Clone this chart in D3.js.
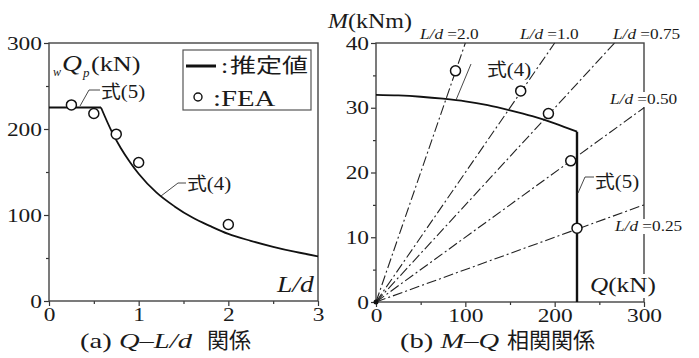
<!DOCTYPE html>
<html>
<head>
<meta charset="utf-8">
<script src="https://cdn.jsdelivr.net/npm/d3@7"></script>
<style>
body { margin: 0; background: #fff; }
svg text { font-family: "Liberation Serif", "Noto Sans CJK JP", serif; fill: #1a1a1a; }
</style>
</head>
<body>
<svg id="chart" width="699" height="358"></svg>
<script>
// (a) Q - L/d
var ldTicks = [0, 1, 2, 3];
var ldMinor = [0.5, 1.5, 2.5];
var qpTicks = [0, 100, 200, 300];
var qpMinor = [50, 150, 250];
var flatLd = [0, 0.58];
var flatQ = [225, 225];
var curveLd = [0.58, 0.7, 0.8, 0.9, 1.0, 1.2, 1.4, 1.6, 1.8, 2.0, 2.25, 2.5, 2.75, 3.0];
var curveQ = [225, 197, 178, 162, 148, 126, 110, 97, 87, 78, 70, 63, 57, 52];
var feaLd = [0.25, 0.5, 0.75, 1.0, 2.0];
var feaQ = [228, 218, 194, 161, 89];

// (b) M - Q
var qTicks = [0, 100, 200, 300];
var qMinor = [50, 150, 250];
var mTicks = [0, 10, 20, 30, 40];
var mMinor = [5, 15, 25, 35];
var mqQ = [0, 25, 50, 75, 100, 125, 150, 175, 200, 225];
var mqM = [32, 31.9, 31.7, 31.4, 31, 30.4, 29.6, 28.7, 27.6, 26.3];
var capQ = [225, 225];
var capM = [26.3, 0];
var rayNames = ["2.0", "1.0", "0.75", "0.50", "0.25"];
var rayEndQ = [100, 200, 267, 300, 300];
var rayEndM = [40, 40, 40, 30, 15];
var feaQb = [89, 162, 193, 218, 225];
var feaMb = [35.7, 32.6, 29.1, 21.8, 11.4];

var SX = 1.3;
var svg = d3.select("#chart");

var xa = d3.scaleLinear().domain([0, 3]).range([49, 318]);
var ya = d3.scaleLinear().domain([0, 300]).range([301, 43]);
var xb = d3.scaleLinear().domain([0, 300]).range([376, 644]);
var yb = d3.scaleLinear().domain([0, 40]).range([302, 43]);

function label (g, x, y, size, sx, anchor) {
  return g.append("text")
    .attr("transform", "translate(" + x + "," + y + ") scale(" + sx + ",1)")
    .attr("text-anchor", anchor || "start")
    .style("font-size", size + "px");
}

function shiki (x, y, n) {
  var s = label(svg, x, y, 19, 1.1, "start");
  s.append("tspan").style("font-size", "18px").text("式");
  s.append("tspan").text("(" + n + ")");
}

function axes (x, y, xt, xm, yt, ym) {
  var g = svg.append("g");
  var y0 = y.range()[0], x0 = x.range()[0];
  var bx = g.append("g").attr("transform", "translate(0," + y0 + ")")
    .call(d3.axisBottom(x).tickValues(xt).tickSize(5).tickSizeOuter(0).tickFormat(d3.format("d")));
  g.append("g").attr("transform", "translate(0," + y0 + ")")
    .call(d3.axisBottom(x).tickValues(xm).tickSize(3).tickSizeOuter(0).tickFormat(""));
  var by = g.append("g").attr("transform", "translate(" + x0 + ",0)")
    .call(d3.axisLeft(y).tickValues(yt).tickSize(5).tickSizeOuter(0).tickFormat(d3.format("d")));
  g.append("g").attr("transform", "translate(" + x0 + ",0)")
    .call(d3.axisLeft(y).tickValues(ym).tickSize(3).tickSizeOuter(0).tickFormat(""));
  g.selectAll("g").attr("font-family", null).attr("font-size", null);
  g.selectAll(".domain").remove();
  g.selectAll(".tick line").attr("stroke", "#333").attr("stroke-width", 1.2);
  bx.selectAll("text").attr("fill", "#1a1a1a").style("font-size", "18px")
    .attr("transform", "scale(" + SX + ",1)").attr("y", 7).attr("dy", "0.71em");
  by.selectAll("text").attr("fill", "#1a1a1a").style("font-size", "18px")
    .attr("transform", "scale(" + SX + ",1)").attr("x", -7 / SX).attr("dy", "0.34em");
  g.append("rect")
    .attr("x", x.range()[0]).attr("y", y.range()[1])
    .attr("width", x.range()[1] - x.range()[0]).attr("height", y0 - y.range()[1])
    .attr("fill", "none").attr("stroke", "#444").attr("stroke-width", 1.4);
  return g;
}

// ---------- (a)
axes(xa, ya, ldTicks, ldMinor, qpTicks, qpMinor);

var lineA = d3.line().x(function (d) { return xa(d[0]); }).y(function (d) { return ya(d[1]); });
svg.append("path").attr("d", lineA(d3.zip(flatLd, flatQ)))
  .attr("fill", "none").attr("stroke", "#111").attr("stroke-width", 2);
svg.append("path").attr("d", lineA.curve(d3.curveMonotoneX)(d3.zip(curveLd, curveQ)))
  .attr("fill", "none").attr("stroke", "#111").attr("stroke-width", 1.8);

svg.append("g").selectAll("circle").data(d3.zip(feaLd, feaQ)).enter().append("circle")
  .attr("cx", function (d) { return xa(d[0]); })
  .attr("cy", function (d) { return ya(d[1]); })
  .attr("r", 5).attr("fill", "#fff").attr("stroke", "#111").attr("stroke-width", 1.5);

// axis titles
var t = label(svg, 53, 76, 12, 1, "start");
t.append("tspan").style("font-style", "italic").text("w");
t = label(svg, 62, 71, 24, 1.15, "start");
t.append("tspan").style("font-style", "italic").text("Q");
t = label(svg, 83, 77, 13, 1, "start");
t.append("tspan").style("font-style", "italic").text("p");
label(svg, 91, 71, 21, 1.25, "start").text("(kN)");
label(svg, 277, 292, 24, 1.15, "start").style("font-style", "italic").text("L/d");

// annotations
svg.append("path").attr("d", "M100,90 L89,90 L80,106")
  .attr("fill", "none").attr("stroke", "#333").attr("stroke-width", 0.9);
shiki(101, 98, 5);
svg.append("path").attr("d", "M186,183 L178,183 L161,196")
  .attr("fill", "none").attr("stroke", "#333").attr("stroke-width", 0.9);
shiki(187, 190, 4);

// legend
svg.append("rect").attr("x", 183).attr("y", 50).attr("width", 128).attr("height", 60)
  .attr("fill", "#fff").attr("stroke", "#555").attr("stroke-width", 1.2);
svg.append("line").attr("x1", 186).attr("x2", 216).attr("y1", 66).attr("y2", 66)
  .attr("stroke", "#111").attr("stroke-width", 3);
label(svg, 221, 73, 20, SX, "start").text(":");
label(svg, 230, 73, 20, SX, "start").text("推定値");
svg.append("circle").attr("cx", 198).attr("cy", 97).attr("r", 4)
  .attr("fill", "#fff").attr("stroke", "#111").attr("stroke-width", 1.4);
label(svg, 213, 106, 24, 1.2, "start").text(":FEA");

// caption
t = label(svg, 80, 348, 22, SX, "start");
t.append("tspan").text("(a) ");
t.append("tspan").style("font-style", "italic").text("Q");
t.append("tspan").text("–");
t.append("tspan").style("font-style", "italic").text("L/d");
label(svg, 207, 348, 22, 1, "start").text("関係");

// ---------- (b)
axes(xb, yb, qTicks, qMinor, mTicks, mMinor);

var lineB = d3.line().x(function (d) { return xb(d[0]); }).y(function (d) { return yb(d[1]); });

// L/d rays through the origin
var rays = svg.append("g");
rays.selectAll("path").data(d3.zip(rayEndQ, rayEndM)).enter().append("path")
  .attr("d", function (d) { return lineB([[0, 0], d]); })
  .attr("fill", "none").attr("stroke", "#222").attr("stroke-width", 1.1)
  .attr("stroke-dasharray", "10,3,2,3");

// ray labels, two of them sit on the right frame over a white patch
var rayPos = [[420, 39, false], [520, 39, false], [613, 39, false], [610, 104, true], [615, 231, true]];
rayNames.forEach(function (n, i) {
  var p = rayPos[i];
  if (p[2]) {
    svg.append("rect").attr("x", p[0] - 1).attr("y", p[1] - 12).attr("width", 70).attr("height", 15).attr("fill", "#fff");
  }
  var lt = label(svg, p[0], p[1], 15, 1.15, "start");
  lt.append("tspan").style("font-style", "italic").text("L/d");
  lt.append("tspan").text(" =" + n);
});

svg.append("path").attr("d", lineB.curve(d3.curveMonotoneX)(d3.zip(mqQ, mqM)))
  .attr("fill", "none").attr("stroke", "#111").attr("stroke-width", 1.8);
svg.append("path").attr("d", d3.line().x(function (d) { return xb(d[0]); }).y(function (d) { return yb(d[1]); })(d3.zip(capQ, capM)))
  .attr("fill", "none").attr("stroke", "#111").attr("stroke-width", 2.4);

svg.append("circle").attr("cx", xb(0)).attr("cy", yb(0)).attr("r", 2.5).attr("fill", "#111");

svg.append("g").selectAll("circle").data(d3.zip(feaQb, feaMb)).enter().append("circle")
  .attr("cx", function (d) { return xb(d[0]); })
  .attr("cy", function (d) { return yb(d[1]); })
  .attr("r", 5).attr("fill", "#fff").attr("stroke", "#111").attr("stroke-width", 1.5);

// axis titles
t = label(svg, 328, 28, 20, 1.2, "start");
t.append("tspan").style("font-style", "italic").text("M");
t.append("tspan").text("(kNm)");
svg.append("rect").attr("x", 588).attr("y", 274).attr("width", 68).attr("height", 24).attr("fill", "#fff");
t = label(svg, 590, 292, 21, 1.2, "start");
t.append("tspan").style("font-style", "italic").text("Q");
t.append("tspan").text("(kN)");

// annotations
svg.append("path").attr("d", "M471,64 L456,100")
  .attr("fill", "none").attr("stroke", "#333").attr("stroke-width", 0.9);
shiki(487, 76, 4);
svg.append("path").attr("d", "M594,177 L585,177 L578,193")
  .attr("fill", "none").attr("stroke", "#333").attr("stroke-width", 0.9);
shiki(595, 188, 5);

// caption
t = label(svg, 400, 348, 22, SX, "start");
t.append("tspan").text("(b) ");
t.append("tspan").style("font-style", "italic").text("M");
t.append("tspan").text("–");
t.append("tspan").style("font-style", "italic").text("Q");
label(svg, 507, 348, 22, 1, "start").text("相関関係");
</script>
</body>
</html>
